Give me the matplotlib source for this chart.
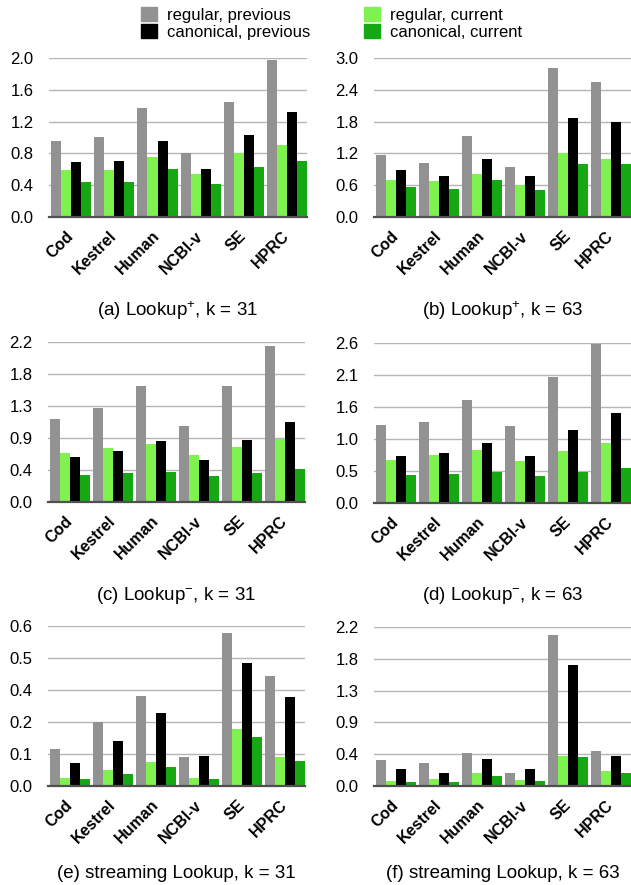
"""Query throughput of regular vs canonical k-mer dictionaries, previous vs current.

Six panels: positive lookups, negative lookups and streaming lookups, each for
k = 31 and k = 63, over the same six datasets.
"""

import numpy as np
import matplotlib
matplotlib.use("Agg")
import matplotlib.pyplot as plt

plt.rcParams["font.family"] = ["Liberation Sans", "DejaVu Sans"]
plt.rcParams["mathtext.default"] = "regular"

DATASETS = ["Cod", "Kestrel", "Human", "NCBI-v", "SE", "HPRC"]
SERIES = ["regular, previous", "regular, current",
          "canonical, previous", "canonical, current"]
COLORS = ["#929292", "#80f24f", "#000000", "#15a812"]

# per panel: one list per series, in SERIES order
lookup_pos_31_reg_prev = [0.95, 1.01, 1.37, 0.81, 1.45, 1.97]
lookup_pos_31_reg_cur = [0.59, 0.59, 0.75, 0.54, 0.80, 0.90]
lookup_pos_31_can_prev = [0.69, 0.70, 0.95, 0.60, 1.03, 1.32]
lookup_pos_31_can_cur = [0.44, 0.44, 0.61, 0.41, 0.63, 0.70]

lookup_pos_63_reg_prev = [1.17, 1.02, 1.52, 0.94, 2.81, 2.55]
lookup_pos_63_reg_cur = [0.69, 0.67, 0.82, 0.60, 1.20, 1.10]
lookup_pos_63_can_prev = [0.88, 0.78, 1.10, 0.77, 1.86, 1.80]
lookup_pos_63_can_cur = [0.56, 0.53, 0.69, 0.51, 1.00, 1.00]

lookup_neg_31_reg_prev = [1.14, 1.29, 1.60, 1.05, 1.60, 2.14]
lookup_neg_31_reg_cur = [0.67, 0.74, 0.80, 0.65, 0.76, 0.86]
lookup_neg_31_can_prev = [0.62, 0.70, 0.84, 0.58, 0.85, 1.10]
lookup_neg_31_can_cur = [0.37, 0.40, 0.41, 0.36, 0.40, 0.45]

lookup_neg_63_reg_prev = [1.27, 1.32, 1.68, 1.25, 2.04, 2.58]
lookup_neg_63_reg_cur = [0.70, 0.78, 0.86, 0.68, 0.84, 0.97]
lookup_neg_63_can_prev = [0.77, 0.81, 0.97, 0.76, 1.18, 1.47]
lookup_neg_63_can_cur = [0.45, 0.47, 0.51, 0.44, 0.51, 0.57]

stream_31_reg_prev = [0.139, 0.239, 0.336, 0.110, 0.575, 0.412]
stream_31_reg_cur = [0.030, 0.060, 0.090, 0.030, 0.212, 0.110]
stream_31_can_prev = [0.088, 0.170, 0.274, 0.114, 0.462, 0.334]
stream_31_can_cur = [0.026, 0.046, 0.071, 0.028, 0.185, 0.092]

stream_63_reg_prev = [0.36, 0.32, 0.46, 0.18, 2.09, 0.49]
stream_63_reg_cur = [0.07, 0.09, 0.18, 0.08, 0.41, 0.21]
stream_63_can_prev = [0.23, 0.18, 0.37, 0.23, 1.67, 0.42]
stream_63_can_cur = [0.06, 0.06, 0.14, 0.07, 0.40, 0.18]

YMAX = [2.0, 3.0, 2.2, 2.6, 0.6, 2.2]
TITLES = ["(a) Lookup$^{+}$, k = 31", "(b) Lookup$^{+}$, k = 63",
          "(c) Lookup$^{-}$, k = 31", "(d) Lookup$^{-}$, k = 63",
          "(e) streaming Lookup, k = 31", "(f) streaming Lookup, k = 63"]

PANELS = [
    [lookup_pos_31_reg_prev, lookup_pos_31_reg_cur, lookup_pos_31_can_prev, lookup_pos_31_can_cur],
    [lookup_pos_63_reg_prev, lookup_pos_63_reg_cur, lookup_pos_63_can_prev, lookup_pos_63_can_cur],
    [lookup_neg_31_reg_prev, lookup_neg_31_reg_cur, lookup_neg_31_can_prev, lookup_neg_31_can_cur],
    [lookup_neg_63_reg_prev, lookup_neg_63_reg_cur, lookup_neg_63_can_prev, lookup_neg_63_can_cur],
    [stream_31_reg_prev, stream_31_reg_cur, stream_31_can_prev, stream_31_can_cur],
    [stream_63_reg_prev, stream_63_reg_cur, stream_63_can_prev, stream_63_can_cur],
]

W_PX, H_PX = 631, 885
BAR_W = 40 / 43 / 4          # four touching bars, small gap between groups

# axes boxes in pixels: (left, top, width, height)
BOXES = [(49, 58, 258, 159), (374, 58, 257, 159),
         (48, 342, 257, 160), (374, 343, 257, 160),
         (48, 626, 257, 160), (374, 627, 257, 159)]
TITLE_Y = [311, 311, 595, 595, 874, 874]


def draw_panel(ax, series, ymax):
    x = np.arange(len(DATASETS))
    for j, (vals, col) in enumerate(zip(series, COLORS)):
        ax.bar(x + (j - 1.5) * BAR_W, vals, BAR_W, color=col, linewidth=0, zorder=3)
    ax.set_xlim(-2 * BAR_W - 0.05, len(DATASETS) - 1 + 2 * BAR_W)
    ticks = np.linspace(0, ymax, 6)
    ax.set_ylim(0, ymax)
    ax.set_yticks(ticks)
    ax.set_yticklabels([f"{t:.1f}" for t in ticks], fontsize=12)
    ax.yaxis.grid(True, color="#b5b5b5", linewidth=1.0, zorder=0)
    ax.set_xticks(x)
    ax.set_xticklabels(DATASETS, rotation=45, ha="right", va="center",
                       rotation_mode="anchor", fontsize=11.5, fontweight="bold")
    ax.tick_params(axis="both", length=0)
    ax.tick_params(axis="y", pad=11)
    ax.tick_params(axis="x", pad=12)
    for s in ("top", "left", "right"):
        ax.spines[s].set_visible(False)
    ax.spines["bottom"].set_color("#505050")
    ax.spines["bottom"].set_linewidth(1.6)
    ax.spines["bottom"].set_zorder(4)


def main():
    fig = plt.figure(figsize=(W_PX / 100, H_PX / 100), dpi=100)
    for k, (l, t, w, h) in enumerate(BOXES):
        ax = fig.add_axes([l / W_PX, 1 - (t + h) / H_PX, w / W_PX, h / H_PX])
        draw_panel(ax, PANELS[k], YMAX[k])
        fig.text((l + w / 2) / W_PX, 1 - TITLE_Y[k] / H_PX, TITLES[k],
                 ha="center", va="center", fontsize=13.5)

    handles = [plt.Rectangle((0, 0), 1, 1, color=c) for c in COLORS]
    common = dict(frameon=False, fontsize=12, handlelength=0.95, handleheight=0.95,
                  handletextpad=0.6, labelspacing=0.05, borderaxespad=0,
                  borderpad=0)
    fig.legend([handles[0], handles[2]], [SERIES[0], SERIES[2]],
               loc="upper left", bbox_to_anchor=(141 / W_PX, 1 - 7 / H_PX), **common)
    fig.legend([handles[1], handles[3]], [SERIES[1], SERIES[3]],
               loc="upper left", bbox_to_anchor=(364 / W_PX, 1 - 7 / H_PX), **common)

    fig.savefig("out.png", dpi=100)
    plt.close(fig)


if __name__ == "__main__":
    main()
